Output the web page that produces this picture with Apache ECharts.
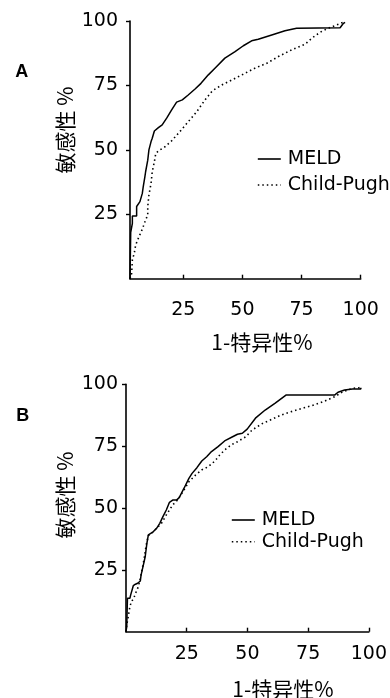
<!DOCTYPE html>
<html><head><meta charset="utf-8">
<script src="https://cdn.jsdelivr.net/npm/echarts@6/dist/echarts.min.js"></script>
<style>html,body{margin:0;padding:0;background:#fff}#c{width:390px;height:698px}</style>
</head><body><div id="c"></div>
<script>
const seriesNames = ['MELD', 'Child-Pugh'];
const tickValues = [25, 50, 75, 100];
const meldA = [[2.5,0],[2.8,18],[3.5,21.5],[3.5,24.3],[5.3,24.3],[5.3,28],[6.7,29.9],[7.7,33.1],[8.1,35.7],[8.8,39.6],[9.1,41.5],[10,46],[10.5,50],[11.4,53.2],[11.9,54.5],[12.8,57.3],[14.5,58.6],[16.1,59.7],[18,62.3],[20.1,65.5],[22.2,68.5],[24.6,69.4],[27.1,71.3],[30,73.6],[32.5,75.8],[35.6,79.1],[38.4,81.7],[42.6,85.6],[46.9,88.1],[50.4,90.4],[53.9,92.3],[56.7,92.9],[62.4,94.6],[68,96.2],[72.9,97.2],[91.3,97.4],[92.7,99.1],[93.4,99.5]];
const childA = [[2.5,0],[3.2,2.1],[3.5,7.3],[4.3,9.9],[4.9,13.1],[6.3,16.3],[7.7,19.2],[9.1,22.8],[10,24.7],[10,28],[10.5,32.5],[11.4,37],[11.9,41.5],[12.8,45.4],[13.4,48.7],[15.2,50],[17.3,51.2],[20.1,53.5],[23.6,57.1],[27.1,60.9],[30.7,64.8],[34.2,69.4],[37.3,72.9],[41.3,75.2],[45.5,77.1],[51.1,79.7],[55.3,81.7],[60.3,83.6],[65.2,86.2],[70.8,88.8],[76.5,91],[79.3,93.3],[82.8,95.6],[85.6,96.9],[89.9,98.5],[92.6,99.5]];
const meldB = [[0,0],[0.3,2],[0.6,13.5],[1.6,13.5],[1.9,14.8],[2.6,15.5],[3,18.6],[3.9,19.2],[4.8,19.6],[5.9,20.5],[6.2,22.9],[7,26.3],[7.9,30.3],[8.6,35.7],[9.2,39.1],[9.9,39.8],[11.2,40.4],[12.6,41.8],[13.9,43.8],[15.2,46.5],[16.6,49.2],[17.9,52.3],[19.2,53.2],[20.8,53.2],[21.9,54.2],[23.9,58],[25.9,62],[27.2,64],[29.2,66.3],[31.2,69],[33.2,70.7],[35.2,72.8],[37.9,74.8],[40.6,77.1],[43.9,78.8],[45.9,79.8],[47.9,80.2],[49.9,81.9],[53.3,86.3],[57.3,89.6],[61.3,92.3],[66,95.7],[86,95.7],[87.3,96.8],[90,97.7],[93.3,98.1],[96.7,98.1],[96.7,98.6]];
const childB = [[0,0],[0.3,2.7],[0.8,5.4],[1.6,10.1],[2.2,12.1],[3.2,13.5],[3.9,15.5],[4.8,17.5],[5.6,20.2],[6.6,24.9],[7.5,29.7],[8.3,35],[9.2,38.8],[11.2,40.4],[14.6,43.8],[16.6,47.2],[17.9,49.2],[19.2,51.2],[21.2,53.2],[23.9,57.3],[25.9,60.6],[28.6,63.3],[31.2,65.4],[33.9,66.7],[36.6,69],[38.6,71.4],[40.6,73.4],[43.3,75.5],[45.9,76.8],[49.3,78.8],[51.9,81.5],[55.9,84],[59.9,85.8],[63.9,87.6],[67.9,88.9],[73.3,90.5],[77.3,91.6],[81.3,93],[86,95],[89.3,97],[93.3,98.4],[96,98.6],[96.7,99]];
const panelLabels = ['A', 'B'];
const yTitle = '敏感性 %';
const xTitle = '1-特异性%';

const latin = 'DejaVu Sans';
const cjk = '"Noto Sans CJK SC"';
const chart = echarts.init(document.getElementById('c'));

function xAx(gi, min, margin) {
  return {
    type: 'value', gridIndex: gi, min: min, max: 100,
    axisLine: {show: true, lineStyle: {color: '#000', width: 1.6}},
    axisTick: {show: true, inside: true, length: 4, customValues: tickValues, lineStyle: {color: '#000', width: 1.4}},
    axisLabel: {customValues: tickValues, margin: margin, color: '#000', fontFamily: latin, fontSize: 19},
    splitLine: {show: false}
  };
}
function yAx(gi, margin) {
  return {
    type: 'value', gridIndex: gi, min: 0, max: 100,
    axisLine: {show: true, lineStyle: {color: '#000', width: 1.6}},
    axisTick: {show: true, inside: false, length: 4, customValues: tickValues, lineStyle: {color: '#000', width: 1.4}},
    axisLabel: {customValues: tickValues, margin: margin, color: '#000', fontFamily: latin, fontSize: 19},
    splitLine: {show: false}
  };
}
function ser(name, data, gi, dotted) {
  return {
    type: 'line', name: name, data: data, xAxisIndex: gi, yAxisIndex: gi,
    symbol: 'none', smooth: false, animation: false,
    lineStyle: {color: '#000', width: dotted ? 1.6 : 1.5, type: dotted ? [1.5, 3] : 'solid'},
    itemStyle: {color: '#000'}
  };
}
function leg(left, top, gap) {
  return {
    orient: 'vertical', left: left, top: top, padding: 0, itemWidth: 23, itemHeight: 10, itemGap: gap,
    data: seriesNames, selectedMode: false,
    itemStyle: {opacity: 0},
    lineStyle: {width: 1.6},
    textStyle: {color: '#000', fontFamily: latin, fontSize: 19, lineHeight: 19, padding: [0, 0, 0, 2]}
  };
}
function txt(x, y, s, size, rot, bold, fam) {
  return {
    type: 'text', x: x, y: y, rotation: rot || 0,
    style: {text: s, fill: '#000', fontSize: size, fontWeight: bold ? 'bold' : 'normal',
      fontFamily: fam, textAlign: 'center', textVerticalAlign: 'middle'}
  };
}

chart.setOption({
  animation: false,
  grid: [
    {left: 130, top: 21, width: 230.7, height: 257.7},
    {left: 126, top: 384.3, width: 249, height: 247.4}
  ],
  xAxis: [xAx(0, 2.5, 22), xAx(1, 0, 13)],
  yAxis: [yAx(0, 12), yAx(1, 8)],
  legend: [leg(257, 149.5, 7), leg(231, 510.5, 2.7)],
  series: [
    ser(seriesNames[0], meldA, 0, false),
    ser(seriesNames[1], childA, 0, true),
    ser(seriesNames[0], meldB, 1, false),
    ser(seriesNames[1], childB, 1, true)
  ],
  graphic: [
    txt(21.7, 72, panelLabels[0], 18, 0, true, 'Liberation Sans'),
    txt(22.7, 416, panelLabels[1], 18, 0, true, 'Liberation Sans'),
    txt(65, 130, yTitle, 21, Math.PI / 2, false, cjk),
    txt(65, 495, yTitle, 21, Math.PI / 2, false, cjk),
    txt(262, 342, xTitle, 21, 0, false, cjk),
    txt(283, 689, xTitle, 21, 0, false, cjk)
  ]
});
</script></body></html>
